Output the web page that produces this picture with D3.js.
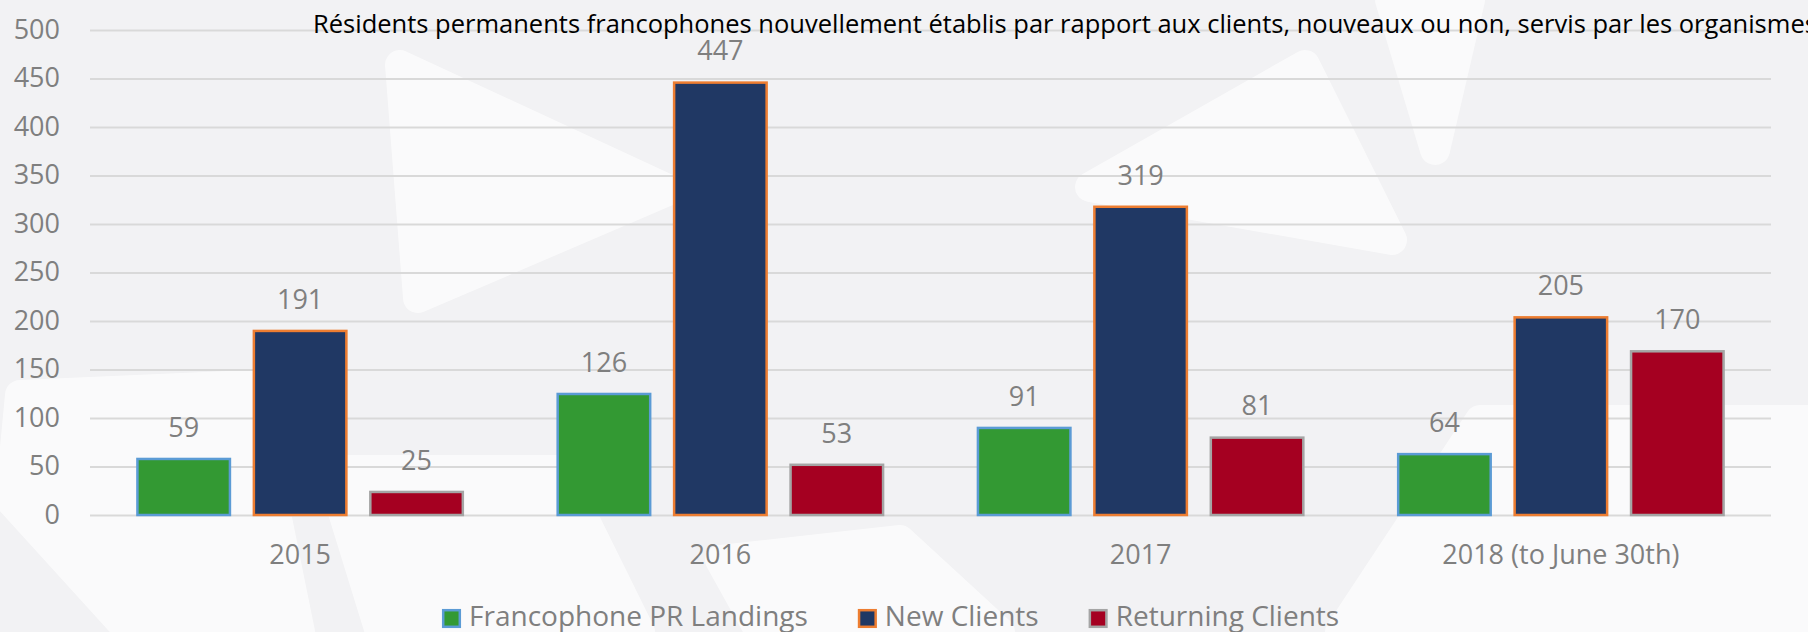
<!DOCTYPE html>
<html>
<head>
<meta charset="utf-8">
<script src="https://cdn.jsdelivr.net/npm/d3@7"></script>
<style>
  body { margin: 0; background: #f2f2f4; overflow: hidden; }
  svg { display: block; font-family: "Open Sans", sans-serif; }
  .grid line { stroke: #d9d9d9; stroke-width: 2px; }
  .axis text { fill: #7f7f7f; font-size: 27px; font-family: "Open Sans", sans-serif; }
</style>
</head>
<body>
<svg id="chart"></svg>
<script>
// data
var categories = ["2015", "2016", "2017", "2018 (to June 30th)"];
var seriesNames = ["Francophone PR Landings", "New Clients", "Returning Clients"];
var prLandings = [59, 126, 91, 64];
var newClients = [191, 447, 319, 205];
var returningClients = [25, 53, 81, 170];
var yTicks = [0, 50, 100, 150, 200, 250, 300, 350, 400, 450, 500];
var titleText = "Résidents permanents francophones nouvellement établis par rapport aux clients, nouveaux ou non, servis par les organismes";

var fills = ["#339933", "#203864", "#a50021"];
var strokes = ["#5b9bd5", "#ed7d31", "#a5a5a5"];

var W = 1808, H = 632;
var margin = { left: 90, right: 37, top: 30, bottom: 117 };
var width = W - margin.left - margin.right,
    height = H - margin.top - margin.bottom;

var svg = d3.select("#chart").attr("width", W).attr("height", H);

// faint logo watermark behind the chart
var wm = svg.append("g").attr("fill", "#ffffff").attr("stroke", "#ffffff")
    .attr("stroke-linejoin", "round").attr("stroke-width", 30).attr("opacity", 0.65);
var shapes = [
  [[400, 65], [670, 190], [418, 298]],
  [[1090, 187], [1305, 65], [1392, 240]],
  [[1390, 0], [1470, 0], [1435, 150]],
  [[20, 395], [250, 385], [300, 632], [130, 632], [10, 500]],
  [[330, 470], [560, 470], [640, 632], [380, 632]],
  [[1340, 632], [1480, 420], [1808, 420], [1808, 632]],
  [[720, 560], [900, 540], [1000, 632], [760, 632]]
];
wm.selectAll("path").data(shapes).join("path")
  .attr("d", function(d) { return d3.line()(d) + "Z"; });

var g = svg.append("g")
  .attr("transform", "translate(" + margin.left + "," + margin.top + ")");

// scales
var x0 = d3.scaleBand().domain(categories).range([0, width])
    .paddingInner(0.22).paddingOuter(0.11);
var x1 = d3.scaleBand().domain(seriesNames).range([0, x0.bandwidth()])
    .paddingInner(0.185).paddingOuter(0);
var y = d3.scaleLinear().domain([0, 500]).range([height, 0]);

// gridlines + y labels
var yAxis = g.append("g").attr("class", "axis grid")
  .call(d3.axisLeft(y).tickValues(yTicks).tickSize(-width).tickPadding(30));
yAxis.select(".domain").remove();
yAxis.selectAll("text").attr("dy", "0.3em");

// title (drawn over the top gridline, runs off the right edge)
svg.append("text")
  .attr("x", 313).attr("y", 33)
  .attr("font-size", "25.5px")
  .attr("fill", "#000")
  .text(titleText);

// x labels
var xAxis = g.append("g").attr("class", "axis")
  .attr("transform", "translate(0," + height + ")")
  .call(d3.axisBottom(x0).tickSize(0).tickPadding(30));
xAxis.select(".domain").remove();

// build rows
var rows = categories.map(function(c, i) {
  return { cat: c, values: [prLandings[i], newClients[i], returningClients[i]] };
});

var groups = g.selectAll(".grp").data(rows).join("g")
  .attr("class", "grp")
  .attr("transform", function(d) { return "translate(" + x0(d.cat) + ",0)"; });

var cells = groups.selectAll(".cell")
  .data(function(d) {
    return d.values.map(function(v, k) { return { s: seriesNames[k], k: k, v: v }; });
  })
  .join("g").attr("class", "cell");

cells.append("rect")
  .attr("x", function(d) { return x1(d.s) + 1.2; })
  .attr("width", x1.bandwidth() - 2.4)
  .attr("y", function(d) { return y(d.v) + 1.2; })
  .attr("height", function(d) { return height - y(d.v) - 1.2; })
  .attr("fill", function(d) { return fills[d.k]; })
  .attr("stroke", function(d) { return strokes[d.k]; })
  .attr("stroke-width", 2.5);

cells.append("text")
  .attr("x", function(d) { return x1(d.s) + x1.bandwidth() / 2; })
  .attr("y", function(d) { return y(d.v) - 21; })
  .attr("text-anchor", "middle")
  .attr("font-size", "27px")
  .attr("fill", "#7f7f7f")
  .text(function(d) { return d.v; });

// legend
var legend = svg.append("g").attr("transform", "translate(442,0)");
var lx = 0;
seriesNames.forEach(function(name, k) {
  var item = legend.append("g").attr("transform", "translate(" + lx + ",0)");
  item.append("rect")
    .attr("x", 1.2).attr("y", 610.2).attr("width", 16.6).attr("height", 16.6)
    .attr("fill", fills[k]).attr("stroke", strokes[k]).attr("stroke-width", 2.5);
  var t = item.append("text")
    .attr("x", 27).attr("y", 626)
    .attr("font-size", "28px")
    .attr("fill", "#7f7f7f")
    .text(name);
  lx += 27 + t.node().getComputedTextLength() + 50;
});
</script>
</body>
</html>
